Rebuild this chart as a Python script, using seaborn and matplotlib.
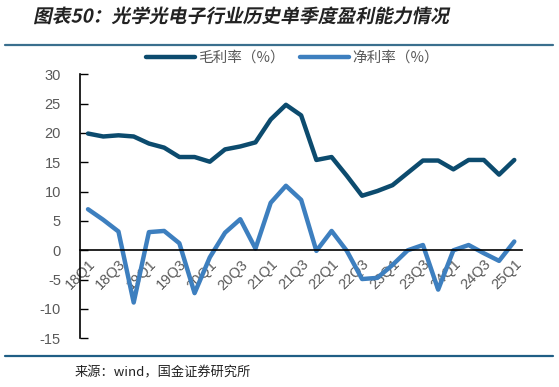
import matplotlib
matplotlib.use("Agg")
import matplotlib.pyplot as plt
import seaborn as sns
import pandas as pd
from matplotlib.lines import Line2D
from matplotlib.patheffects import AbstractPathEffect
from matplotlib.transforms import Affine2D
from matplotlib.ticker import MultipleLocator, FixedLocator

quarters = ["18Q1", "18Q2", "18Q3", "18Q4", "19Q1", "19Q2", "19Q3", "19Q4",
            "20Q1", "20Q2", "20Q3", "20Q4", "21Q1", "21Q2", "21Q3", "21Q4",
            "22Q1", "22Q2", "22Q3", "22Q4", "23Q1", "23Q2", "23Q3", "23Q4",
            "24Q1", "24Q2", "24Q3", "24Q4", "25Q1"]
gross_margin = [19.9, 19.4, 19.6, 19.4, 18.2, 17.5, 15.9, 15.9, 15.1, 17.2,
                17.7, 18.4, 22.3, 24.8, 23.0, 15.4, 15.9, 12.7, 9.3, 10.1,
                11.1, 13.2, 15.3, 15.3, 13.8, 15.4, 15.4, 12.9, 15.4]
net_margin = [7.0, 5.2, 3.2, -8.9, 3.1, 3.3, 1.2, -7.3, -1.2, 3.0,
              5.3, 0.3, 8.1, 11.0, 8.6, -0.1, 3.3, -0.1, -4.9, -4.7,
              -2.5, 0.0, 0.9, -6.7, 0.0, 0.9, -0.5, -1.8, 1.5]
series_names = ["毛利率（%）", "净利率（%）"]
colors = ["#0c4b6e", "#3d7fbf"]
title = "图表50：光学光电子行业历史单季度盈利能力情况"
source = "来源：wind，国金证券研究所"

sns.set_style("white")
plt.rcParams["font.family"] = ["Liberation Sans", "Noto Sans CJK SC", "DejaVu Sans"]
plt.rcParams["axes.unicode_minus"] = False

n = len(quarters)
df = pd.DataFrame({
    "idx": list(range(n)) * 2,
    "value": gross_margin + net_margin,
    "series": [series_names[0]] * n + [series_names[1]] * n,
})

fig = plt.figure(figsize=(5.59, 3.87), dpi=100)
W, H = 559, 387
ax_l, ax_r, ax_t, ax_b = 80.4, 521.9, 74.3, 338.3
ax = fig.add_axes([ax_l / W, 1 - ax_b / H, (ax_r - ax_l) / W, (ax_b - ax_t) / H])

sns.lineplot(data=df, x="idx", y="value", hue="series", palette=colors,
             linewidth=3.2, ax=ax, legend=False, solid_capstyle="round")
for ln in ax.get_lines():
    ln.set_solid_joinstyle("round")

ax.set_xlim(-0.5, n - 0.5)
ax.set_ylim(-15, 30)
ax.yaxis.set_major_locator(MultipleLocator(5))
ax.set_xlabel("")
ax.set_ylabel("")

for s in ["top", "right"]:
    ax.spines[s].set_visible(False)
ax.spines["bottom"].set_position(("data", 0))
for s in ["left", "bottom"]:
    ax.spines[s].set_color("black")
    ax.spines[s].set_linewidth(1.2)

ax.set_xticks(list(range(0, n, 2)))
ax.set_xticklabels(quarters[::2], rotation=45, ha="right", va="top",
                   rotation_mode="anchor")
ax.xaxis.set_minor_locator(FixedLocator([i - 0.5 for i in range(n + 1)]))
ax.tick_params(axis="x", which="major", length=0, pad=5,
               labelsize=10.5, labelcolor="#595959")
ax.tick_params(axis="x", which="minor", direction="in", length=4,
               width=1, color="black")
ax.tick_params(axis="y", direction="in", length=6, width=1, color="black",
               labelsize=10.5, labelcolor="#595959", pad=14, left=True)

handles = [Line2D([0], [0], color=c, lw=3.2, solid_capstyle="round") for c in colors]
leg = ax.legend(handles, series_names, loc="center", bbox_to_anchor=(0.48, 1.062),
                ncol=2, frameon=False, handlelength=3.4, handletextpad=0.2,
                columnspacing=1.0, prop={"family": ["Noto Sans CJK SC"], "size": 10.5})
for t in leg.get_texts():
    t.set_color("#595959")


class Skew(AbstractPathEffect):
    def __init__(self, deg=12):
        super().__init__()
        self.deg = deg

    def draw_path(self, renderer, gc, tpath, affine, rgbFace=None):
        renderer.draw_path(gc, tpath, Affine2D().skew_deg(self.deg, 0) + affine, rgbFace)


fig.text(33 / W, 1 - 17 / H, title, fontsize=13.5, fontweight="bold",
         family=["Noto Sans CJK SC"], color="#222222", va="center", ha="left",
         path_effects=[Skew(12)])

fig.add_artist(Line2D([5 / W, 553 / W], [1 - 45 / H] * 2, color="#3a6f8e", lw=1.6))
fig.add_artist(Line2D([5 / W, 553 / W], [1 - 356 / H] * 2, color="#1f5e85", lw=1.6))

fig.text(75 / W, 1 - 373 / H, source, fontsize=9.5, family=["Noto Sans CJK SC"],
         color="#222222", va="center", ha="left")

fig.savefig("out.png", dpi=100)
